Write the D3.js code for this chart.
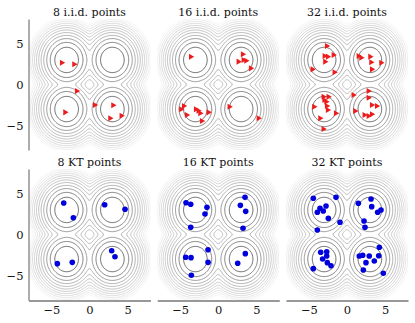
<!DOCTYPE html>
<html>
<head>
<meta charset="utf-8">
<script src="https://cdn.jsdelivr.net/npm/d3@7"></script>
<style>
  body{margin:0;background:#fff;}
  text{font-family:"DejaVu Serif",serif;}
</style>
</head>
<body>
<svg id="chart" width="415" height="323"></svg>
<script>
// panel titles
var topTitles=["8 i.i.d. points","16 i.i.d. points","32 i.i.d. points"];
var bottomTitles=["8 KT points","16 KT points","32 KT points"];
var tickVals=[-5,0,5];

// mixture means (contours)
var mixMeans=[[-3,3],[3,3],[-3,-3],[3,-3]];

// i.i.d. samples
var iid8=[[-3.65,2.66],[-2.03,2.47],[-1.68,-0.79],[-3.21,-3.4],[0.68,-2.5],[3.08,-2.54],[2.69,-4.13],[4.17,-3.81]];
var iid16=[[-3.61,3.39],[3.2,3.69],[2.63,2.79],[3.29,2.99],[3.64,2.91],[4.25,1.97],
  [-4.53,-2.62],[-4.89,-3.03],[-4.14,-3.72],[-2.96,-3.03],[-2.62,-3.2],[-2.39,-3.52],[-1.3,-3.4],[-2.17,-4.46],
  [1.45,-2.71],[5.26,-4.13]];
var iid32=[[-2.66,4.7],[-2.97,3.48],[-2.54,3.4],[-1.79,3.6],[-2.89,2.79],[-4.55,1.85],[-1.66,1.49],
  [1.49,3.48],[1.84,3.28],[3.02,3.4],[3.15,2.71],[4.46,2.66],[3.24,1.85],
  [-3.11,-1.49],[-2.45,-1.49],[-2.75,-2.1],[-2.66,-2.62],[-4.33,-2.71],[-2.54,-3.11],[-1.48,-3.52],[-3.54,-4.13],[-3.11,-5.43],[-3.0,-1.9],
  [0.83,-1.28],
  [2.8,-0.79],[2.8,-1.61],[3.24,-2.5],[3.89,-2.62],[1.05,-3.24],[2.27,-3.72],[2.8,-3.85],[3.24,-3.64]];

// kernel thinning points
var kt8=[[-3.38,3.85],[-2.12,2.05],[1.99,3.64],[4.66,3.08],[2.91,-1.98],[3.34,-2.71],[-4.22,-3.56],[-2.26,-3.4]];
var kt16=[[-4.23,3.88],[-3.61,3.69],[-1.48,3.32],[-1.74,2.5],[-3.61,0.88],
  [3.51,4.54],[2.9,3.56],[3.6,2.83],[3.25,0.76],
  [-1.34,-1.86],[-4.27,-2.78],[-3.57,-2.83],[-1.34,-3.4],[-3.53,-4.98],
  [3.55,-2.34],[2.55,-3.52]];
var kt32=[[-4.42,4.42],[-1.44,4.54],[-2.75,3.48],[-3.54,3.2],[-3.11,2.87],[-3.89,2.71],[-2.45,1.98],[-0.92,1.49],[-3.89,0.55],
  [3.15,4.33],[1.49,3.81],[3.24,3.4],[4.46,2.99],[4.02,2.71],[2.23,1.65],[2.36,0.88],
  [-3.45,-2.17],[-2.66,-2.1],[-2.66,-2.62],[-2.58,-3.44],[-2.1,-3.81],[-4.42,-4.17],[-3.2,-3.0],
  [4.24,-1.56],[1.61,-2.62],[2.06,-2.54],[2.92,-2.62],[4.16,-2.59],[3.58,-3.24],[2.49,-3.44],[2.14,-4.33],[4.76,-4.74]];

var topSets=[iid8,iid16,iid32];
var bottomSets=[kt8,kt16,kt32];

var svg=d3.select("#chart");
var colX=[28.5,157.25,286], panelW=122;
var rowY=[19,169], panelH=131;

// log density of the mixture (up to a constant)
function logDens(x,y){
  var s=0;
  mixMeans.forEach(function(m){ s+=Math.exp(-((x-m[0])*(x-m[0])+(y-m[1])*(y-m[1]))/2); });
  return Math.log(s);
}

// grid a bit larger than the view so contours never hit the edge
var lo=-10, step=0.1, n=201;
var gridVals=new Array(n*n);
for(var j=0;j<n;j++){
  for(var i=0;i<n;i++){
    gridVals[j*n+i]=logDens(lo+i*step,-lo-j*step);
  }
}
var nLev=12;
var levels=d3.range(0,nLev).map(function(k){return -1.2-1.1*k;});
// inner levels dark, outer levels fade out
var levelColor=d3.scaleLinear().domain([0,3,nLev-1]).range(["#444","#999","#f3f3f3"]);
var contourSet=d3.contours().size([n,n]).thresholds(levels)(gridVals);

var defs=svg.append("defs");

function drawPanel(r,c,pts,kind,title){
  var x0=colX[c], y0=rowY[r];
  var xs=d3.scaleLinear().domain([-8,8]).range([x0,x0+panelW]);
  var ys=d3.scaleLinear().domain([-8,8]).range([y0+panelH,y0]);
  var clipId="clip"+r+c;
  defs.append("clipPath").attr("id",clipId)
    .append("rect").attr("x",x0).attr("y",y0).attr("width",panelW).attr("height",panelH);

  var g=svg.append("g").attr("class","panel");
  var proj=d3.geoTransform({point:function(gx,gy){
    this.stream.point(xs(lo+(gx-0.5)*step),ys(-lo-(gy-0.5)*step));
  }});
  var path=d3.geoPath(proj);
  g.append("g").attr("clip-path","url(#"+clipId+")")
    .selectAll("path").data(contourSet).enter().append("path")
      .attr("d",path)
      .attr("fill","none")
      .attr("stroke",function(d){return levelColor(Math.round((-1.2-d.value)/1.1));})
      .attr("stroke-width",0.8);

  if(kind==="iid"){
    var tri=d3.symbol().type(d3.symbolTriangle).size(16);
    g.selectAll(".pt").data(pts).enter().append("path")
      .attr("class","pt")
      .attr("d",tri())
      .attr("fill","#ec1c1c")
      .attr("transform",function(d){return "translate("+xs(d[0])+","+ys(d[1])+") rotate(90)";});
  }else{
    g.selectAll(".pt").data(pts).enter().append("circle")
      .attr("class","pt")
      .attr("cx",function(d){return xs(d[0]);})
      .attr("cy",function(d){return ys(d[1]);})
      .attr("r",2.8)
      .attr("fill","#0000dd");
  }

  svg.append("text")
    .attr("x",x0+panelW/2).attr("y",y0-3.5)
    .attr("text-anchor","middle")
    .attr("font-size",11)
    .attr("fill","#111")
    .text(title);

  if(c===0){
    var ax=svg.append("g").attr("transform","translate("+x0+",0)")
      .call(d3.axisLeft(ys).tickValues(tickVals).tickSize(0).tickPadding(5));
    ax.select(".domain").attr("stroke","#999").attr("stroke-width",1.6);
    ax.selectAll("text").attr("font-size",11.5).attr("font-family","DejaVu Serif").attr("fill","#111");
  }
  if(r===1){
    var bx=svg.append("g").attr("transform","translate(0,"+(y0+panelH+0.5)+")")
      .call(d3.axisBottom(xs).tickValues(tickVals).tickSize(0).tickPadding(5));
    bx.select(".domain").attr("stroke","#333").attr("stroke-width",1);
    bx.selectAll("text").attr("font-size",11.5).attr("font-family","DejaVu Serif").attr("fill","#111");
  }
}

for(var c=0;c<3;c++){
  drawPanel(0,c,topSets[c],"iid",topTitles[c]);
  drawPanel(1,c,bottomSets[c],"kt",bottomTitles[c]);
}
</script>
</body>
</html>
